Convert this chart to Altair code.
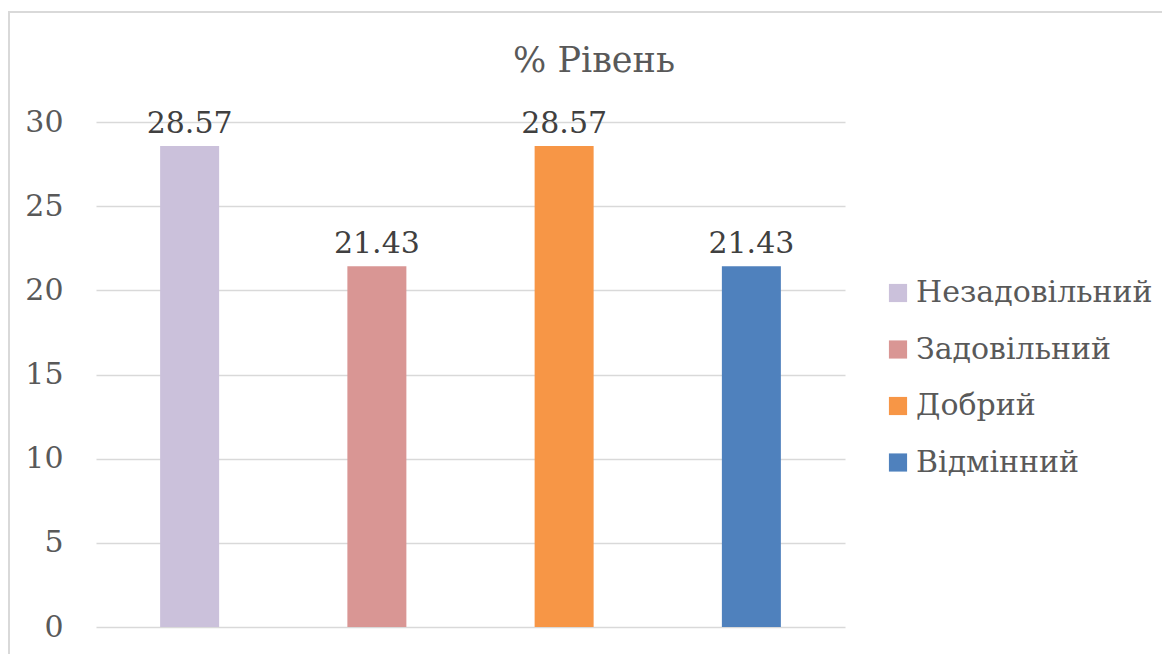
import altair as alt
import pandas as pd

categories = ["Незадовільний", "Задовільний", "Добрий", "Відмінний"]
values = [28.57, 21.43, 28.57, 21.43]
labels = ["28.57", "21.43", "28.57", "21.43"]
colors = ["#CBC1DB", "#D99694", "#F79646", "#4F81BD"]
chart_title = "% Рівень"

df = pd.DataFrame({"cat": categories, "val": values, "lbl": labels})
title_df = pd.DataFrame({"t": [chart_title]})

FONT = "DejaVu Serif"
TXT = "#595959"

x = alt.X("cat:N", sort=categories, axis=None,
          scale=alt.Scale(paddingInner=0, paddingOuter=0))
y = alt.Y("val:Q", scale=alt.Scale(domain=[0, 30], nice=False),
          axis=alt.Axis(values=[0, 5, 10, 15, 20, 25, 30], title=None,
                        domain=False, ticks=False, labelFont=FONT,
                        labelFontSize=30, labelColor=TXT, labelPadding=33,
                        gridColor="#D9D9D9", gridWidth=1.5))

bars = alt.Chart(df).mark_bar(size=59).encode(
    x=x, y=y,
    color=alt.Color("cat:N", sort=categories,
                    scale=alt.Scale(domain=categories, range=colors),
                    legend=alt.Legend(title=None, orient="none", legendX=787,
                                      legendY=156, labelFont=FONT,
                                      labelFontSize=30, labelColor=TXT,
                                      symbolType="square", symbolSize=330,
                                      symbolStrokeWidth=0, rowPadding=26.5,
                                      labelOffset=3, labelLimit=400,
                                      padding=0)),
)

text = alt.Chart(df).mark_text(baseline="bottom", dy=-7, font=FONT,
                               fontSize=30, color="#404040").encode(
    x=x, y=y, text="lbl:N")

title = alt.Chart(title_df).mark_text(font=FONT, fontSize=35, color=TXT,
                                      baseline="alphabetic", align="center").encode(
    x=alt.value(498), y=alt.value(-50), text="t:N")

border = alt.Chart(df).mark_rect(fill=None, stroke="#D9D9D9", strokeWidth=1.5).encode(
    x=alt.value(-87), x2=alt.value(1072), y=alt.value(-110), y2=alt.value(560))

chart = alt.layer(border, bars, text, title).properties(
    width=749, height=505,
    autosize=alt.AutoSizeParams(type="none"),
    padding={"left": 88, "top": 114, "right": 317, "bottom": 30},
).configure_view(stroke=None)

chart.save("out.html", embed_options={"renderer": "svg", "actions": False})
